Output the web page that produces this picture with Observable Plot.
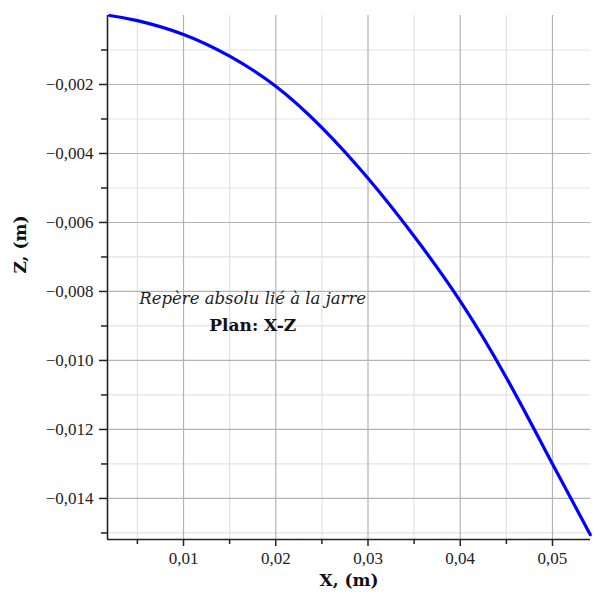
<!DOCTYPE html>
<html>
<head>
<meta charset="utf-8">
<script src="https://cdn.jsdelivr.net/npm/d3@7"></script>
<script src="https://cdn.jsdelivr.net/npm/@observablehq/plot@0.6"></script>
<style>
  html, body { margin: 0; padding: 0; background: #fff; }
  #chart { width: 600px; height: 596px; }
</style>
</head>
<body>
<div id="chart"></div>
<script>
// Curve (X in m, Z in m)
const xValues = [0.0020, 0.0050, 0.0100, 0.0150, 0.0200, 0.0250, 0.0300, 0.0350, 0.0400, 0.0450, 0.0500, 0.0541];
const zValues = [0.0000, -0.00015, -0.00055, -0.00118, -0.00205, -0.00325, -0.00472, -0.00640, -0.00828, -0.01050, -0.01300, -0.01505];

const xMajorTicks = [0.01, 0.02, 0.03, 0.04, 0.05];
const xMinorTicks = [0.005, 0.015, 0.025, 0.035, 0.045];
const yMajorTicks = [-0.002, -0.004, -0.006, -0.008, -0.010, -0.012, -0.014];
const yMinorTicks = [-0.001, -0.003, -0.005, -0.007, -0.009, -0.011, -0.013, -0.015];

const xDomain = [0.00176, 0.05412];
const yDomain = [-0.01519, 0];

const xLabel = "X, (m)";
const yLabel = "Z, (m)";
const noteLine1 = "Repère absolu lié à la jarre";
const noteLine2 = "Plan: X-Z";
const notePos = {x: 0.0175, y1: -0.0082, y2: -0.0090};

const data = xValues.map((x, i) => ({x, z: zValues[i]}));
const fr = d3.formatLocale({decimal: ",", thousands: " ", grouping: [3], currency: ["", ""], minus: "\u2212"});
const fx = fr.format(".2f");
const fy = fr.format(".3f");

const chart = Plot.plot({
  width: 600,
  height: 596,
  marginLeft: 107,
  marginRight: 10,
  marginTop: 15,
  marginBottom: 57,
  x: {domain: xDomain, axis: null},
  y: {domain: yDomain, axis: null},
  style: {background: "#fff"},
  marks: [
    Plot.gridX(xMinorTicks, {stroke: "#e3e3e3", strokeOpacity: 1, strokeWidth: 1.2}),
    Plot.gridY(yMinorTicks, {stroke: "#e3e3e3", strokeOpacity: 1, strokeWidth: 1.2}),
    Plot.gridX(xMajorTicks, {stroke: "#b3b3b3", strokeOpacity: 1, strokeWidth: 1.2}),
    Plot.gridY(yMajorTicks, {stroke: "#b3b3b3", strokeOpacity: 1, strokeWidth: 1.2}),
    Plot.axisX(xMajorTicks, {tickSize: 7, tickPadding: 5, tickFormat: fx, fontSize: 17, fontFamily: "Liberation Serif", fill: "#222", stroke: "#222", strokeWidth: 1.5, label: null}),
    Plot.axisX(xMinorTicks, {tickSize: 5, text: null, stroke: "#222", strokeWidth: 1.5, label: null}),
    Plot.axisY(yMajorTicks, {tickSize: 8, tickPadding: 6, tickFormat: fy, fontSize: 17, fontFamily: "Liberation Serif", fill: "#222", stroke: "#222", strokeWidth: 1.5, label: null}),
    Plot.axisY(yMinorTicks, {tickSize: 6, text: null, stroke: "#222", strokeWidth: 1.5, label: null}),
    Plot.ruleX([xDomain[0]], {stroke: "#222", strokeWidth: 1.6}),
    Plot.ruleY([yDomain[0]], {stroke: "#222", strokeWidth: 1.6}),
    Plot.line(data, {x: "x", y: "z", stroke: "#0000ff", strokeWidth: 3.2, curve: "natural"}),
    Plot.text([noteLine1], {x: notePos.x, y: notePos.y1, text: d => d, fontFamily: "DejaVu Serif", fontStyle: "italic", fontSize: 16.5, fill: "#222"}),
    Plot.text([noteLine2], {x: notePos.x, y: notePos.y2, text: d => d, fontFamily: "DejaVu Serif", fontWeight: "bold", fontSize: 17, fill: "#111"}),
    Plot.text([xLabel], {frameAnchor: "bottom", dy: 46, text: d => d, fontFamily: "DejaVu Serif", fontWeight: "bold", fontSize: 17, fill: "#111"}),
    Plot.text([yLabel], {frameAnchor: "left", dx: -87, dy: -4, rotate: -90, text: d => d, fontFamily: "DejaVu Serif", fontWeight: "bold", fontSize: 17, fill: "#111"})
  ]
});
document.getElementById("chart").appendChild(chart);
</script>
</body>
</html>
